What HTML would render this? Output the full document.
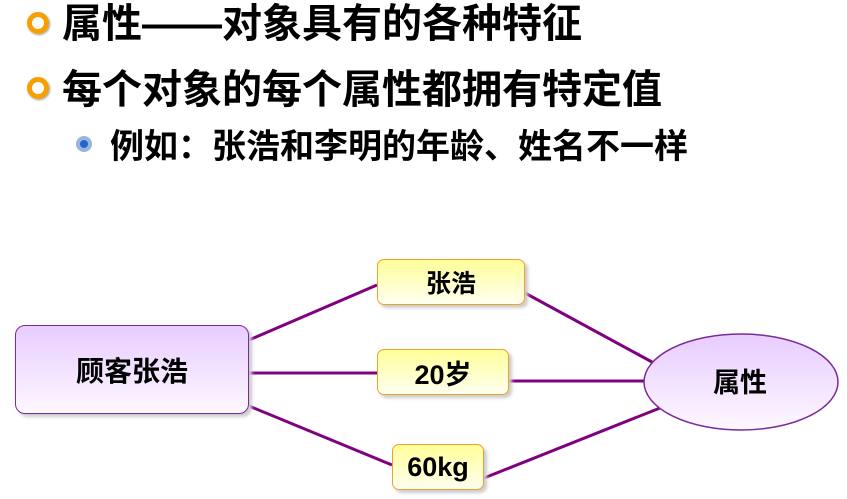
<!DOCTYPE html>
<html><head><meta charset="utf-8"><style>
body{margin:0;width:847px;height:499px;background:#fff;position:relative;overflow:hidden;font-family:"Liberation Sans","Noto Sans CJK SC",sans-serif;font-weight:bold;color:#000}
.t{position:absolute;white-space:nowrap}
.b1{position:absolute;width:12px;height:12px;border:5px solid #f5a000;border-radius:50%;box-shadow:1px 1px 2px #999}
.b2{position:absolute;width:8px;height:8px;border:4px solid #9ab4e0;border-radius:50%;background:#2266cc}
.box{position:absolute;box-sizing:border-box;border:1.5px solid #f0a030;border-radius:7px;background:linear-gradient(#ffff99,#fffff0);box-shadow:3px 3px 3px #ccc;display:flex;align-items:center;justify-content:center;font-size:25px}
</style></head><body>
<div class="b1" style="left:27px;top:12px"></div>
<div class="t" style="left:62px;top:0px;font-size:40px;line-height:48px">属性——对象具有的各种特征</div>
<div class="b1" style="left:27px;top:77px"></div>
<div class="t" style="left:62px;top:66px;font-size:40px;line-height:48px">每个对象的每个属性都拥有特定值</div>
<div class="b2" style="left:76px;top:136px"></div>
<div class="t" style="left:110px;top:127px;font-size:34px;line-height:40px">例如：张浩和李明的年龄、姓名不一样</div>
<svg style="position:absolute;left:0;top:0" width="847" height="499">
<defs><linearGradient id="g" x1="0" y1="0" x2="0" y2="1"><stop offset="0" stop-color="#e8ccff"/><stop offset="1" stop-color="#fdf8ff"/></linearGradient></defs>
<g stroke="#800080" stroke-width="3">
<line x1="249" y1="340" x2="377" y2="285"/><line x1="249" y1="373" x2="377" y2="373"/><line x1="249" y1="406" x2="392" y2="465"/>
<line x1="525" y1="293" x2="652" y2="362"/><line x1="509" y1="381" x2="644" y2="381"/><line x1="484" y1="478" x2="660" y2="408"/>
</g>
<ellipse cx="741" cy="382" rx="97" ry="48" fill="url(#g)" stroke="#7a2a9a" stroke-width="1.5"/>
<text x="740" y="392" font-size="27" font-weight="bold" text-anchor="middle" font-family="Liberation Sans,Noto Sans CJK SC,sans-serif">属性</text>
</svg>
<div class="box" style="left:15px;top:325px;width:234px;height:89px;border-color:#7a2a9a;border-radius:10px;background:linear-gradient(#e8ccff,#fdf8ff);font-size:28px">顾客张浩</div>
<div class="box" style="left:377px;top:259px;width:148px;height:46px">张浩</div>
<div class="box" style="left:377px;top:349px;width:132px;height:46px;font-size:27px">20岁</div>
<div class="box" style="left:392px;top:444px;width:92px;height:46px;font-size:27px">60kg</div>
</body></html>
